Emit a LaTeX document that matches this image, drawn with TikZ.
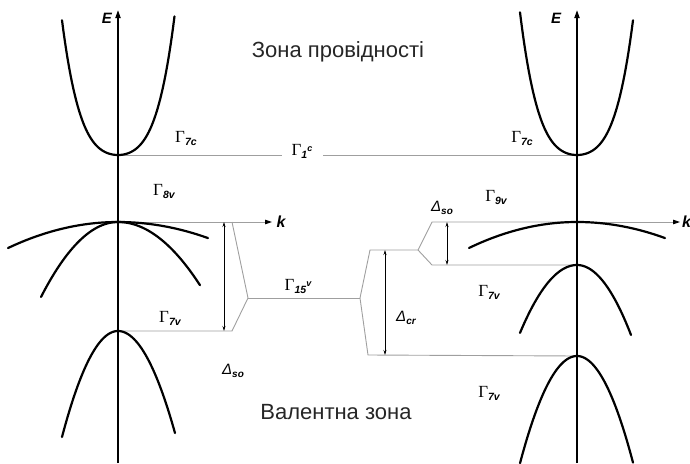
\documentclass[tikz,border=0pt]{standalone}
\usepackage{fontspec}
\setmainfont{Liberation Sans}
\newfontfamily\serifG{Liberation Serif}
\usetikzlibrary{arrows.meta}
\newcommand\GamSub[2]{{\serifG\fontsize{17}{17}\selectfont Γ}\raisebox{-3pt}{\fontsize{10.5}{10.5}\selectfont\bfseries\itshape #1}\raisebox{4pt}{\fontsize{9}{9}\selectfont\bfseries\itshape #2}}
\newcommand\DelSub[1]{{\fontsize{15}{15}\selectfont\itshape Δ}\raisebox{-3pt}{\fontsize{10}{10}\selectfont\bfseries\itshape #1}}
\begin{document}
\begin{tikzpicture}[x=1pt,y=-1pt,
  band/.style={line width=2.2pt, line cap=round},
  axisline/.style={line width=1.7pt, -{Triangle[length=8pt,width=5pt]}},
  kaxis/.style={gray!75, line width=0.9pt, -{Triangle[length=7pt,width=4.5pt,color=black]}},
  lvl/.style={gray!75, line width=0.9pt},
  dimarrow/.style={line width=0.7pt, {Stealth[length=5pt,width=3pt]}-{Stealth[length=5pt,width=3pt]}},
  lbl/.style={inner sep=0pt, text=black},
  zone/.style={inner sep=0pt, font=\fontsize{22}{22}\selectfont, text=black!85}]
\useasboundingbox (0,0) rectangle (690,463);

% --- coordinates (levels)
\coordinate (LC) at (118,155);
\coordinate (LV) at (118,222);
\coordinate (LSO) at (118,331);
\coordinate (RC) at (577,155);
\coordinate (RV) at (577,222);
\coordinate (RU) at (577,265);
\coordinate (RL) at (577,356);

% --- axes
\node[lbl, font=\fontsize{15}{15}\selectfont\bfseries\itshape] (EL) at (107,18) {E};
\node[lbl, font=\fontsize{15}{15}\selectfont\bfseries\itshape] (ER) at (556,18) {E};
\coordinate (LAb) at (118,463);
\coordinate (LAt) at (118,10);
\coordinate (RAb) at (577,463);
\coordinate (RAt) at (577,10);
\draw[axisline] (LAb) -- (LAt);
\draw[axisline] (RAb) -- (RAt);

% --- level lines (gray)
\coordinate (G1a) at (282,155);
\coordinate (G1b) at (323,155);
\draw[lvl] (LC) -- (G1a);
\draw[lvl] (G1b) -- (RC);
\node[lbl] (g1c) at (302,151) {\GamSub{1}{c}};

\node[lbl, font=\fontsize{16}{16}\selectfont\bfseries\itshape] (kL) at (281,222) {k};
\node[lbl, font=\fontsize{16}{16}\selectfont\bfseries\itshape, anchor=west] (kR) at (682,222) {k};
\coordinate (kLe) at (272,222);
\coordinate (kRe) at (680,222);
\draw[kaxis] (LV) -- (kLe);
\draw[kaxis] (RV) -- (kRe);

% left splitting
\coordinate (A1) at (232,222);
\coordinate (A2) at (248,298);
\coordinate (A3) at (232,331);
\draw[lvl] (A1) -- (A2) -- (A3) -- (LSO);
\coordinate (D1t) at (224,222);
\coordinate (D1b) at (224,331);
\draw[dimarrow] (D1t) -- (D1b);

% Gamma15
\coordinate (B1) at (360,298);
\draw[lvl] (A2) -- (B1);
\node[lbl] (g15) at (298,286) {\GamSub{15}{v}};

% right splitting
\coordinate (C1) at (370,250);
\coordinate (C2) at (418,250);
\coordinate (C3) at (368,355);
\coordinate (C4) at (432,222);
\coordinate (C5) at (432,265);
\draw[lvl] (B1) -- (C1) -- (C2) -- (C4) -- (RV);
\draw[lvl] (C2) -- (C5) -- (RU);
\draw[lvl] (B1) -- (C3) -- (RL);
\coordinate (D2t) at (385,250);
\coordinate (D2b) at (385,355);
\draw[dimarrow] (D2t) -- (D2b);
\coordinate (D3t) at (447,222);
\coordinate (D3b) at (447,265);
\draw[dimarrow] (D3t) -- (D3b);

% --- bands (black); \x in units of 10pt where quartic terms are used
% left conduction
\draw[band] plot[domain=-5.6:5.65, samples=80] ({118+10*\x},{155-(1.63*\x*\x+0.085*\x*\x*\x*\x)});
% left heavy hole
\draw[band] plot[domain=-110:0, samples=40] ({118+\x},{222+0.00215*\x*\x});
\draw[band] plot[domain=0:90, samples=40] ({118+\x},{222+0.00198*\x*\x});
% left light hole
\draw[band] plot[domain=-77:0, samples=40] ({118+\x},{222+0.01265*\x*\x});
\draw[band] plot[domain=0:82, samples=40] ({118+\x},{222+0.0094*\x*\x});
% left split-off
\draw[band] plot[domain=-56:0, samples=40] ({118+\x},{331+0.0338*\x*\x});
\draw[band] plot[domain=0:57, samples=40] ({118+\x},{331+0.0314*\x*\x});
% right conduction
\draw[band] plot[domain=-5.7:5.6, samples=80] ({577+10*\x},{155-(1.63*\x*\x+0.085*\x*\x*\x*\x)});
% right Gamma9
\draw[band] plot[domain=-108:0, samples=40] ({577+\x},{222+0.00223*\x*\x});
\draw[band] plot[domain=0:88, samples=40] ({577+\x},{222+0.00207*\x*\x});
% right upper Gamma7
\draw[band] plot[domain=-57:0, samples=40] ({577+\x},{265+0.0209*\x*\x});
\draw[band] plot[domain=0:54, samples=40] ({577+\x},{265+0.024*\x*\x});
% right lower Gamma7
\draw[band] plot[domain=-57:0, samples=40] ({577+\x},{356+0.033*\x*\x});
\draw[band] plot[domain=0:56, samples=40] ({577+\x},{356+0.034*\x*\x});

% --- labels
\node[lbl] (g7cL) at (186,138) {\GamSub{7c}{}};
\node[lbl] (g7cR) at (522,138) {\GamSub{7c}{}};
\node[lbl] (g8v) at (164,191) {\GamSub{8v}{}};
\node[lbl] (g9v) at (496,197) {\GamSub{9v}{}};
\node[lbl] (g7vL) at (170,318) {\GamSub{7v}{}};
\node[lbl] (g7vR1) at (489,292) {\GamSub{7v}{}};
\node[lbl] (g7vR2) at (489,393) {\GamSub{7v}{}};
\node[lbl] (dsoL) at (233,371) {\DelSub{so}};
\node[lbl] (dsoR) at (442,208) {\DelSub{so}};
\node[lbl] (dcr) at (406,318) {\DelSub{cr}};

\node[zone] (cz) at (338,52) {Зона провідності};
\node[zone] (vz) at (336,412) {Валентна зона};
\end{tikzpicture}
\end{document}
